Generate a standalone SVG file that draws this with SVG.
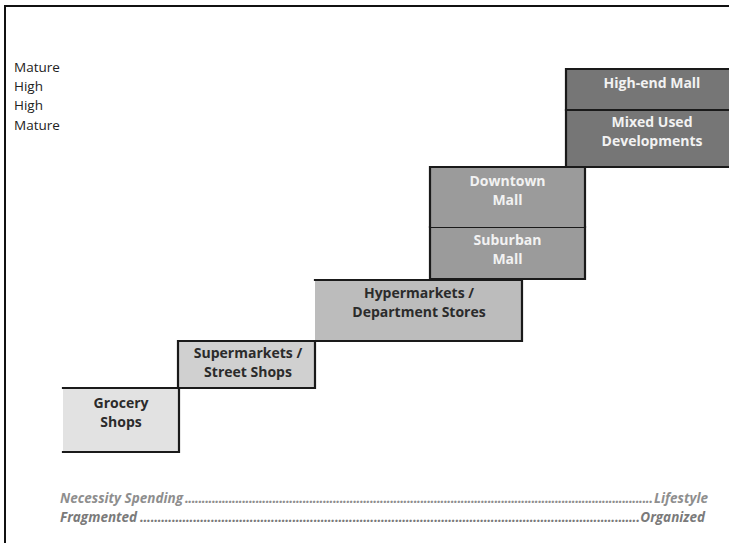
<svg xmlns="http://www.w3.org/2000/svg" width="729" height="546" viewBox="0 0 729 546">
  <style>
    .frame { fill: none; stroke: #111; stroke-width: 2; }
    .edge { fill: none; stroke: #1a1a1a; stroke-width: 2.2; stroke-linecap: square; }
    .lbl { font-family: "Open Sans", "Liberation Sans", sans-serif; font-weight: bold; font-size: 14px; text-anchor: middle; }
    .dark { fill: #2b2b2b; }
    .light { fill: #f2f2f2; }
    .side { font-family: "Open Sans", "Liberation Sans", sans-serif; font-size: 13.5px; fill: #222; }
    .axis { font-family: "Open Sans", "Liberation Sans", sans-serif; font-size: 13.5px; font-weight: bold; font-style: italic; }
    .a1 { fill: #8e8e8e; }
    .a2 { fill: #7a7a7a; }
  </style>

  <rect width="729" height="546" fill="#ffffff"/>
  <!-- outer frame (top and left edges only) -->
  <path class="frame" d="M5,543 V6 H729"/>

  <!-- maturity labels -->
  <g id="side-labels">
    <text class="side" x="14" y="72">Mature</text>
    <text class="side" x="14" y="91">High</text>
    <text class="side" x="14" y="110">High</text>
    <text class="side" x="14" y="130">Mature</text>
  </g>

  <g id="grocery">
    <rect x="63" y="388" width="116" height="64" fill="#e2e2e2"/>
    <path class="edge" d="M63,388 H179 V452 H63"/>
    <text class="lbl dark" x="121" y="408">Grocery</text>
    <text class="lbl dark" x="121" y="427">Shops</text>
  </g>

  <g id="supermarkets">
    <rect x="178" y="341" width="137" height="47" fill="#d0d0d0"/>
    <path class="edge" d="M178,388 V341 H315 V388 H178"/>
    <text class="lbl dark" x="248" y="358">Supermarkets /</text>
    <text class="lbl dark" x="248" y="377">Street Shops</text>
  </g>

  <g id="hypermarkets">
    <rect x="315" y="280" width="207" height="61" fill="#bcbcbc"/>
    <path class="edge" d="M315,280 H522 V341 H315"/>
    <text class="lbl dark" x="419" y="298">Hypermarkets /</text>
    <text class="lbl dark" x="419" y="317">Department Stores</text>
  </g>

  <g id="suburban-mall">
    <rect x="430" y="227" width="155" height="52" fill="#9b9b9b"/>
    <path class="edge" d="M430,227 H585 V279 H430 Z"/>
    <text class="lbl light" x="507.5" y="245">Suburban</text>
    <text class="lbl light" x="507.5" y="264">Mall</text>
  </g>

  <g id="downtown-mall">
    <rect x="430" y="167" width="155" height="60" fill="#9b9b9b"/>
    <path class="edge" d="M430,227 V167 H585 V227"/>
    <text class="lbl light" x="507.5" y="186">Downtown</text>
    <text class="lbl light" x="507.5" y="205">Mall</text>
  </g>

  <g id="mixed-used">
    <rect x="566" y="110" width="170" height="57" fill="#767676"/>
    <path class="edge" d="M566,110 V167 H736"/>
    <text class="lbl light" x="652" y="127">Mixed Used</text>
    <text class="lbl light" x="652" y="146">Developments</text>
  </g>

  <g id="high-end-mall">
    <rect x="566" y="69" width="170" height="41" fill="#767676"/>
    <path class="edge" d="M736,69 H566 V110 H736"/>
    <text class="lbl light" x="652" y="88">High-end Mall</text>
  </g>

  <!-- spectrum captions -->
  <g id="spectrum">
    <text class="axis a1" x="60" y="503">Necessity Spending</text>
    <text class="axis a1" x="185" y="503" textLength="468" lengthAdjust="spacing">...........................................................................................................................................</text>
    <text class="axis a1" x="708" y="503" text-anchor="end">Lifestyle</text>
    <text class="axis a2" x="60" y="522">Fragmented</text>
    <text class="axis a2" x="140" y="522" textLength="500" lengthAdjust="spacing">.............................................................................................................................................</text>
    <text class="axis a2" x="705" y="522" text-anchor="end">Organized</text>
  </g>
</svg>
